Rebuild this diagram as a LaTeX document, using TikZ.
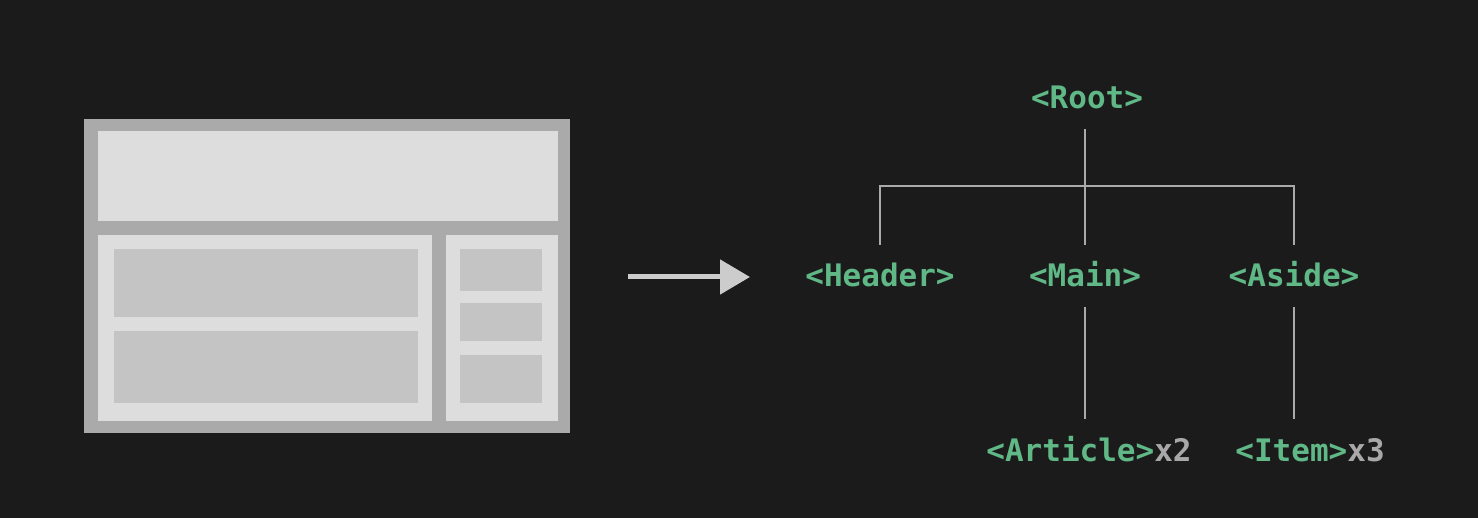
\documentclass[tikz,border=0pt]{standalone}
\usepackage{xcolor}
\usepackage{tikz}
\usepackage{fontspec}
\setmonofont{DejaVu Sans Mono}
\usetikzlibrary{arrows.meta,calc}

\definecolor{bgdark}{HTML}{1B1B1B}
\definecolor{frame}{HTML}{AAAAAA}
\definecolor{panel}{HTML}{DDDDDD}
\definecolor{block}{HTML}{C4C4C4}
\definecolor{taggreen}{HTML}{5FB886}
\definecolor{countgray}{HTML}{A8A8A8}
\definecolor{arrowgray}{HTML}{CCCCCC}

\begin{document}
\begin{tikzpicture}[x=1pt, y=-1pt,
    tag/.style={text=taggreen, inner sep=0pt, text height=22pt, text depth=0pt,
        font=\ttfamily\bfseries\fontsize{31}{36}\selectfont},
    link/.style={draw=frame, line width=2pt, shorten <=20pt, shorten >=20pt}]
    \fill[bgdark] (0,0) rectangle (1478,518);

    % page layout
    \fill[frame] (84,119) rectangle (570,433);
    \fill[panel] (98,131) rectangle (558,221);
    \fill[panel] (98,235) rectangle (432,421);
    \fill[panel] (446,235) rectangle (558,421);
    \fill[block] (114,249) rectangle (418,317);
    \fill[block] (114,331) rectangle (418,403);
    \fill[block] (460,249) rectangle (542,291);
    \fill[block] (460,303) rectangle (542,341);
    \fill[block] (460,355) rectangle (542,403);

    \coordinate (from) at (628,277);
    \coordinate (to) at (750,277);
    \draw[arrowgray, line width=5pt, -{Triangle[length=30pt,width=34pt]}] (from) -- (to);

    % component tree
    \node[tag] (root) at (1087,98) {<Root>};
    \node[tag] (header) at (880,276) {<Header>};
    \node[tag] (main) at (1085,276) {<Main>};
    \node[tag] (aside) at (1294,276) {<Aside>};
    \node[tag] (article) at (1089,450) {<Article>\textcolor{countgray}{x2}};
    \node[tag] (item) at (1310,450) {<Item>\textcolor{countgray}{x3}};

    \coordinate (bar) at (1085,186);
    \draw[link, shorten >=0pt] (root.south -| bar) -- (bar);
    \draw[link] (header.north) -- (header.north |- bar) -- (aside.north |- bar) -- (aside.north);
    \draw[link, shorten <=0pt] (bar) -- (main.north);
    \draw[link] (main.south) -- (main.south |- article.north);
    \draw[link] (aside.south) -- (aside.south |- item.north);
\end{tikzpicture}
\end{document}
